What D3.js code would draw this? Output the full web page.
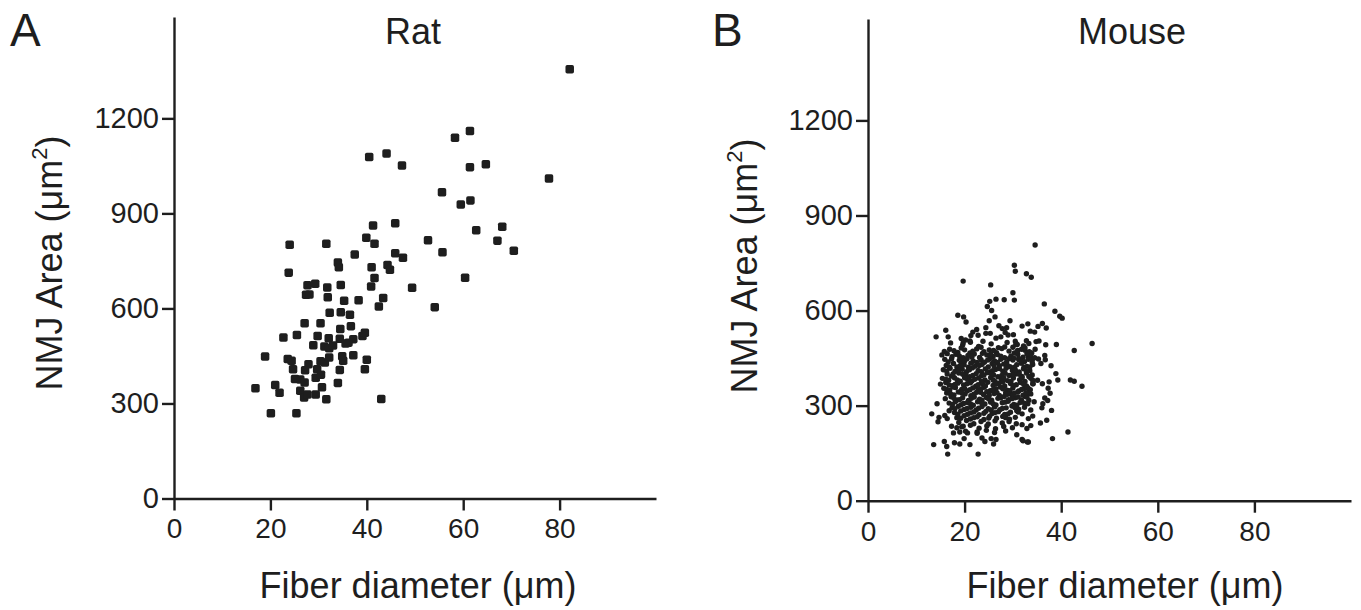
<!DOCTYPE html>
<html lang="en">
  <head>
    <meta charset="UTF-8" />
    <title>NMJ area vs fiber diameter, rat and mouse</title>
    <script src="https://cdnjs.cloudflare.com/ajax/libs/d3/7.8.5/d3.min.js"></script>
    <style>
      body { margin: 0; background: #fff; }
      svg text { font-family: "Liberation Sans", Arial, sans-serif; fill: #1e1e1e; }
    </style>
  </head>
  <body>
    <svg id="chart"></svg>
    <script>
      /** Axis ticks and labels */
      const xTicks = [0, 20, 40, 60, 80];
      const yTicks = [0, 300, 600, 900, 1200];
      const xDomain = [0, 100];
      const yDomain = [0, 1520];
      const panelLetters = ["A", "B"];
      const panelTitles = ["Rat", "Mouse"];
      const xTitle = "Fiber diameter (\u03bcm)";

      /** Rat: [fiber diameter (um), NMJ area (um^2)] */
      const ratPoints = [
        [59.5, 928], [61.5, 941], [41.3, 862], [45.9, 869], [62.7, 847], [68.1, 858],
        [24.0, 801], [31.6, 804], [39.9, 823], [41.6, 804], [52.7, 815], [67.1, 814],
        [55.7, 777], [70.5, 782], [37.5, 770], [45.9, 774], [47.5, 760], [34.0, 745],
        [34.2, 730], [41.0, 730], [44.3, 737], [44.8, 722], [23.8, 713], [41.6, 696],
        [60.4, 697], [27.7, 673], [29.3, 678], [31.8, 666], [34.6, 674], [40.9, 669],
        [49.4, 665], [27.4, 643], [28.1, 644], [31.9, 635], [35.3, 624], [38.3, 626],
        [43.4, 633], [42.5, 606], [54.1, 604], [32.3, 586], [34.6, 588], [36.5, 580],
        [27.1, 553], [30.4, 553], [34.5, 535], [36.7, 544], [22.7, 508], [25.5, 516],
        [29.8, 513], [32.1, 506], [34.4, 504], [37.2, 503], [39.1, 513], [39.6, 523],
        [28.9, 484], [31.2, 480], [32.2, 474], [33.0, 483], [35.6, 489], [36.2, 492],
        [18.9, 448], [23.6, 440], [24.4, 435], [27.9, 424], [30.4, 433], [31.3, 429],
        [32.2, 445], [34.9, 449], [35.1, 435], [37.2, 452], [40.0, 438], [24.7, 408],
        [27.2, 405], [29.7, 408], [34.4, 406], [39.6, 408], [25.1, 377], [26.2, 376],
        [27.1, 366], [29.4, 381], [30.5, 391], [34.0, 365], [16.9, 348], [21.0, 358],
        [21.9, 334], [26.2, 340], [27.0, 319], [27.7, 328], [29.4, 328], [30.7, 351],
        [31.6, 313], [43.0, 314], [20.1, 269], [25.4, 269],
        [82.1, 1355], [58.3, 1139], [61.4, 1160], [40.5, 1078], [44.1, 1089], [47.3, 1051],
        [61.4, 1046], [64.7, 1055], [77.8, 1010], [55.6, 967]
      ];

      /** Mouse: [fiber diameter (um), NMJ area (um^2)] */
      const mousePoints = [
        // sparse points round the edge of the cloud
        [34.6, 807], [30.3, 743], [30.5, 724], [32.8, 716], [33.8, 705], [19.7, 693],
        [25.4, 681], [30.0, 656], [25.2, 629], [26.5, 636], [28.2, 634], [30.3, 633],
        [36.5, 621], [24.7, 613], [25.6, 600], [38.7, 598], [39.7, 582], [40.2, 576],
        [18.6, 585], [19.8, 580], [20.3, 564], [26.3, 580], [25.1, 568], [29.4, 568],
        [16.1, 538], [16.6, 517], [14.1, 517], [46.4, 496], [42.7, 474], [41.9, 381],
        [42.7, 377], [44.3, 361], [39.3, 381], [38.9, 401], [37.9, 426], [39.0, 493],
        [36.8, 492], [41.4, 217], [38.2, 196], [14.3, 306], [13.2, 274], [14.7, 263],
        [14.5, 249], [15.9, 269], [16.8, 284], [16.4, 259], [17.3, 235], [18.4, 230],
        [17.7, 214], [19.0, 217], [19.7, 235], [13.6, 177], [15.8, 187], [16.3, 171],
        [16.5, 147], [17.9, 183], [19.0, 179], [19.9, 196], [20.6, 214], [21.1, 177],
        [22.6, 217], [22.8, 147], [23.6, 198], [24.2, 187], [25.5, 196], [26.0, 179],
        [26.5, 193], [33.0, 185], [31.9, 193], [22.5, 540], [21.7, 532], [21.3, 521],
        [22.8, 522], [24.4, 546], [24.4, 528], [25.3, 528], [27.1, 552], [27.8, 543],
        [28.7, 546], [28.4, 531], [29.0, 523], [27.5, 517], [19.3, 512], [20.2, 507],
        [21.1, 504], [19.7, 498], [26.5, 513], [31.9, 551], [33.1, 558], [33.6, 535],
        [34.5, 532], [35.2, 550], [36.1, 559], [36.9, 545], [30.1, 524], [30.5, 503],
        [30.9, 493], [32.8, 505], [33.3, 496], [34.8, 502], [35.4, 504], [34.6, 478],
        [33.9, 466], [32.5, 475], [31.0, 474], [30.0, 484], [33.2, 456], [34.1, 448],
        [35.3, 447], [36.7, 445], [35.8, 433], [36.6, 458], [31.2, 445], [31.8, 435],
        [32.3, 421], [35.1, 380], [36.1, 369], [37.5, 375], [37.3, 355], [37.7, 339],
        [34.1, 369], [33.2, 354], [33.7, 337], [36.6, 324], [37.2, 316], [36.2, 306],
        [32.6, 329], [33.3, 317], [34.4, 312], [38.0, 285], [36.0, 293], [33.7, 286],
        [34.1, 267], [33.2, 259], [37.0, 254], [35.7, 245], [33.2, 185], [32.1, 189],
        [30.8, 208], [32.9, 228], [33.7, 237], [31.9, 240],
        // dense core of the cloud
        [17.1, 498], [19.6, 491], [21.2, 500], [22.9, 487], [25.5, 495], [27.0, 483],
        [28.8, 499], [32.2, 488], [23.8, 503], [30.6, 493],
        [15.8, 471], [16.9, 478], [18.6, 468], [20.0, 476], [21.1, 466], [22.5, 479],
        [24.0, 470], [25.1, 476], [26.6, 467], [27.7, 480], [29.2, 472], [30.3, 466],
        [31.8, 478], [33.4, 470],
        [15.3, 460], [17.4, 454], [18.2, 462], [19.7, 451], [20.7, 458], [22.0, 463],
        [23.1, 452], [24.6, 460], [25.9, 455], [26.8, 461], [28.3, 451], [29.6, 457],
        [31.0, 462], [32.1, 453], [33.6, 459], [34.5, 451],
        [15.9, 446], [16.6, 438], [18.9, 443], [19.3, 436], [20.5, 448], [21.8, 440],
        [23.4, 445], [24.1, 437], [25.3, 449], [26.2, 441], [27.5, 446], [28.7, 437],
        [30.0, 444], [31.2, 449], [32.4, 439], [33.2, 446],
        [16.2, 427], [17.7, 433], [18.4, 422], [19.9, 429], [21.3, 434], [22.1, 424],
        [23.6, 430], [24.9, 422], [25.7, 433], [27.2, 426], [28.1, 431], [29.4, 423],
        [30.8, 429], [31.7, 434], [32.9, 424], [34.1, 430],
        [15.6, 413], [17.0, 418], [18.0, 408], [19.5, 415], [20.4, 407], [21.6, 419],
        [22.8, 411], [24.3, 416], [25.2, 406], [26.4, 414], [27.9, 409], [28.6, 418],
        [29.9, 411], [31.3, 406], [32.2, 416], [33.5, 410],
        [16.4, 400], [17.3, 393], [18.8, 403], [20.2, 396], [21.0, 391], [22.4, 401],
        [23.5, 394], [24.7, 404], [26.0, 397], [26.9, 391], [28.4, 402], [29.2, 395],
        [30.6, 400], [31.9, 392], [32.8, 403], [34.0, 397],
        [15.4, 386], [16.7, 380], [17.9, 388], [19.1, 377], [20.6, 384], [21.5, 378],
        [22.9, 387], [24.2, 381], [25.4, 389], [26.3, 376], [27.6, 384], [28.9, 379],
        [30.1, 387], [31.4, 382], [32.5, 376], [33.7, 386],
        [15.0, 368], [16.1, 373], [17.5, 363], [18.6, 371], [19.8, 365], [21.2, 372],
        [22.3, 361], [23.7, 369], [24.8, 374], [25.9, 364], [27.1, 371], [28.3, 362],
        [29.5, 370], [30.7, 366], [31.6, 373], [32.8, 362], [34.2, 369],
        [15.7, 355], [16.9, 348], [18.1, 357], [19.4, 351], [20.5, 346], [21.7, 356],
        [22.8, 350], [24.0, 358], [25.3, 347], [26.5, 353], [27.4, 359], [28.8, 349],
        [30.0, 356], [31.2, 346], [32.3, 354], [33.6, 350],
        [16.3, 340], [17.8, 334], [18.7, 343], [20.1, 337], [21.3, 331], [22.5, 342],
        [23.9, 335], [24.6, 344], [26.1, 338], [27.2, 332], [28.5, 341], [29.7, 335],
        [31.0, 343], [32.1, 333], [33.4, 339],
        [16.0, 322], [17.2, 328], [18.5, 318], [19.6, 325], [20.8, 316], [22.0, 327],
        [23.1, 320], [24.5, 326], [25.6, 317], [26.9, 323], [28.2, 329], [29.1, 319],
        [30.5, 325], [31.8, 318], [32.9, 327],
        [16.8, 308], [18.1, 313], [19.3, 303], [20.6, 310], [21.8, 301], [22.7, 312],
        [24.2, 305], [25.4, 311], [26.5, 302], [27.8, 309], [29.0, 314], [30.2, 304],
        [31.5, 310], [33.1, 306],
        [17.4, 293], [18.7, 298], [19.9, 288], [21.3, 295], [22.4, 286], [23.6, 297],
        [24.9, 290], [26.2, 296], [27.3, 287], [28.6, 293], [29.8, 299], [31.2, 289],
        [32.4, 295],
        [17.9, 278], [19.2, 283], [20.6, 273], [21.9, 280], [23.0, 271], [24.4, 282],
        [25.7, 275], [27.0, 281], [28.3, 272], [29.5, 279], [30.8, 284], [31.9, 274],
        [18.4, 262], [19.9, 268], [21.2, 258], [22.6, 265], [24.0, 256], [25.2, 267],
        [26.6, 260], [27.9, 266], [29.3, 257], [30.5, 263],
        [18.8, 247], [20.4, 253], [21.9, 243], [23.4, 250], [24.9, 242], [26.3, 252],
        [27.8, 245], [29.2, 250], [30.7, 243],
        [19.4, 233], [21.2, 238], [23.0, 229], [24.6, 236], [26.4, 227], [28.1, 234],
        [29.9, 230],
        [20.2, 219], [22.6, 213], [24.5, 222], [26.2, 215], [28.5, 220],
        // second pass over the darkest part of the core
        [17.8, 473], [19.3, 482], [21.7, 472], [23.4, 484], [26.0, 474], [28.3, 485],
        [30.9, 471], [32.5, 483],
        [16.4, 464], [18.9, 457], [21.5, 453], [23.7, 465], [25.4, 462], [27.5, 456],
        [30.2, 450], [32.9, 464],
        [17.3, 447], [20.0, 441], [22.6, 436], [24.8, 444], [26.8, 436], [29.2, 448],
        [31.7, 442], [34.0, 437],
        [16.8, 422], [19.1, 426], [20.8, 421], [23.0, 427], [26.1, 425], [28.8, 428],
        [30.3, 421], [33.5, 422],
        [16.3, 409], [18.7, 413], [21.0, 413], [23.5, 407], [25.8, 410], [27.2, 417],
        [30.5, 413], [32.8, 409],
        [17.6, 400], [19.6, 399], [21.7, 395], [24.0, 397], [25.6, 401], [27.7, 395],
        [29.9, 397], [31.3, 399], [33.3, 392],
        [16.1, 383], [18.5, 381], [20.0, 388], [22.1, 383], [23.5, 376], [25.9, 381],
        [28.1, 387], [29.6, 376], [31.9, 387], [34.1, 380],
        [16.8, 365], [18.0, 367], [20.5, 369], [22.8, 366], [24.3, 362], [26.5, 368],
        [27.9, 375], [30.1, 363], [32.2, 368],
        [16.3, 351], [17.6, 359], [20.0, 354], [21.1, 350], [23.4, 353], [25.9, 350],
        [27.9, 353], [29.4, 347], [31.8, 351], [33.0, 357],
        [17.1, 337], [19.4, 340], [21.9, 336], [23.3, 342], [25.1, 333], [26.7, 341],
        [28.9, 336], [30.3, 339], [32.7, 341],
        [17.8, 323], [19.0, 319], [21.4, 323], [23.6, 317], [25.0, 321], [27.5, 325],
        [29.8, 322], [31.1, 327],
        [17.5, 304], [19.8, 307], [21.2, 306], [23.5, 309], [25.9, 306], [28.4, 311],
        [30.8, 301], [32.4, 308],
        [18.0, 290], [20.5, 291], [22.9, 292], [25.5, 286], [27.8, 291], [30.4, 294],
        [18.6, 273], [21.2, 277], [24.0, 276], [26.3, 278], [29.0, 274], [31.1, 280],
        [19.2, 260], [21.9, 262], [25.0, 261], [28.5, 262]
      ];

      /** Graph configs */
      const width = 1361;
      const height = 610;
      const ink = "#1e1e1e";
      const axisWidth = 2.4;
      const tickSize = 12;
      const squareSize = 8.5;
      const dotRadius = 2.7;

      const layouts = [
        { x0: 174, x1: 656, y0: 498.5, y1: 17, letterX: 10, titleX: 413, xLabelX: 418, yLabelX: 62, yLabelY: 263 },
        { x0: 868, x1: 1351, y0: 500.7, y1: 19, letterX: 712, titleX: 1132, xLabelX: 1125, yLabelX: 757, yLabelY: 266 }
      ];

      const svg = d3.select("#chart").attr("width", width).attr("height", height);

      layouts.forEach((p, i) => {
        const xScale = d3.scaleLinear().domain(xDomain).range([p.x0, p.x1]);
        const yScale = d3.scaleLinear().domain(yDomain).range([p.y0, p.y1]);

        const xAxis = d3.axisBottom(xScale).tickValues(xTicks).tickFormat(d3.format("d"))
          .tickSize(tickSize).tickSizeOuter(0).tickPadding(8);
        const yAxis = d3.axisLeft(yScale).tickValues(yTicks).tickFormat(d3.format("d"))
          .tickSize(tickSize).tickSizeOuter(0).tickPadding(3);

        const gx = svg.append("g").attr("transform", `translate(0,${p.y0})`).call(xAxis);
        const gy = svg.append("g").attr("transform", `translate(${p.x0},0)`).call(yAxis);

        [gx, gy].forEach((g) => {
          g.selectAll("path, line").attr("stroke", ink).attr("stroke-width", axisWidth);
          g.selectAll("text").attr("fill", ink).style("font-size", "28px");
        });
        gy.selectAll("text").style("font-size", "29px");

        /** Draw points */
        if (i === 0) {
          svg.append("g")
            .selectAll("rect")
            .data(ratPoints)
            .join("rect")
            .attr("x", (d) => xScale(d[0]) - squareSize / 2)
            .attr("y", (d) => yScale(d[1]) - squareSize / 2)
            .attr("width", squareSize)
            .attr("height", squareSize)
            .attr("rx", 1.8)
            .attr("fill", ink);
        } else {
          svg.append("g")
            .selectAll("circle")
            .data(mousePoints)
            .join("circle")
            .attr("cx", (d) => xScale(d[0]))
            .attr("cy", (d) => yScale(d[1]))
            .attr("r", dotRadius)
            .attr("fill", ink);
        }

        /** Labels */
        svg.append("text")
          .attr("x", p.letterX)
          .attr("y", 46)
          .style("font-size", "46px")
          .text(panelLetters[i]);

        svg.append("text")
          .attr("x", p.titleX)
          .attr("y", 44)
          .attr("text-anchor", "middle")
          .style("font-size", "36px")
          .text(panelTitles[i]);

        svg.append("text")
          .attr("x", p.xLabelX)
          .attr("y", 598)
          .attr("text-anchor", "middle")
          .style("font-size", "36px")
          .text(xTitle);

        const yl = svg.append("text")
          .attr("transform", `translate(${p.yLabelX},${p.yLabelY}) rotate(-90)`)
          .attr("text-anchor", "middle")
          .style("font-size", "36px");
        yl.append("tspan").text("NMJ Area (\u03bcm");
        yl.append("tspan").attr("dy", -15).style("font-size", "22px").text("2");
        yl.append("tspan").attr("dy", 15).text(")");
      });
    </script>
  </body>
</html>
